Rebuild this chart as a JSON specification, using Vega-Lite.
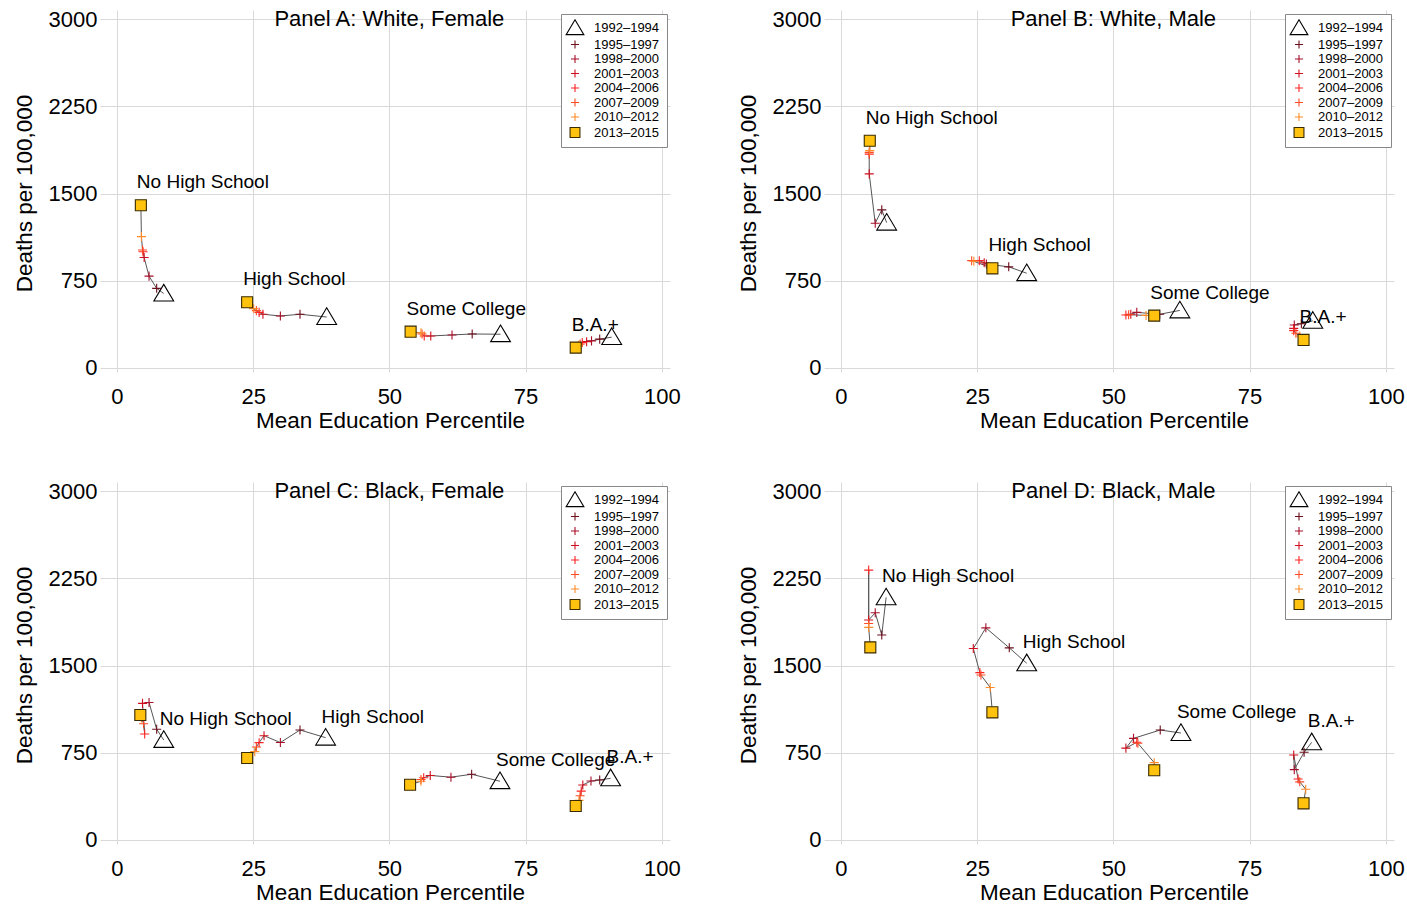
{
  "$schema": "https://vega.github.io/schema/vega-lite/v6.json",
  "background": "white",
  "padding": {"left": 13, "top": 8, "right": 4, "bottom": 2},
  "config": {
    "view": {"stroke": null},
    "font": "Liberation Sans",
    "axis": {
      "grid": true, "gridColor": "#d9d9d9", "gridWidth": 1,
      "domain": false, "ticks": false,
      "labelFont": "Liberation Sans", "labelFontSize": 22, "labelColor": "#000",
      "titleFont": "Liberation Sans", "titleFontSize": 22.5, "titleFontWeight": "normal", "titleColor": "#000"
    },
    "axisX": {"labelPadding": 14, "titlePadding": 2, "titleX": 290},
    "axisY": {"labelPadding": 3, "titlePadding": 12, "titleY": 183},
    "legend": {
      "orient": "none", "legendX": 461, "legendY": 4, "padding": 7,
      "strokeColor": "#888", "fillColor": "white",
      "labelFont": "Liberation Sans", "labelFontSize": 13, "labelColor": "#000",
      "symbolSize": 160, "symbolStrokeWidth": 1.1, "rowPadding": 0.5, "labelOffset": 12
    }
  },
  "spacing": {"row": 48, "column": 56},
  "columns": 2,
  "resolve": {"scale": {"shape": "independent", "stroke": "independent", "fill": "independent"}},
  "datasets": {
    "pts": [
      {"p":"A","g":"No High School","t":"1992–1994","x":8.6,"y":640},
      {"p":"A","g":"No High School","t":"1995–1997","x":7.3,"y":685},
      {"p":"A","g":"No High School","t":"1998–2000","x":5.9,"y":790},
      {"p":"A","g":"No High School","t":"2001–2003","x":5.0,"y":950},
      {"p":"A","g":"No High School","t":"2004–2006","x":4.8,"y":1000},
      {"p":"A","g":"No High School","t":"2007–2009","x":4.7,"y":1015},
      {"p":"A","g":"No High School","t":"2010–2012","x":4.5,"y":1130},
      {"p":"A","g":"No High School","t":"2013–2015","x":4.4,"y":1400},
      {"p":"A","g":"High School","t":"1992–1994","x":38.5,"y":438},
      {"p":"A","g":"High School","t":"1995–1997","x":33.6,"y":462},
      {"p":"A","g":"High School","t":"1998–2000","x":30.0,"y":447},
      {"p":"A","g":"High School","t":"2001–2003","x":26.8,"y":462},
      {"p":"A","g":"High School","t":"2004–2006","x":26.1,"y":478},
      {"p":"A","g":"High School","t":"2007–2009","x":25.6,"y":493},
      {"p":"A","g":"High School","t":"2010–2012","x":25.1,"y":510},
      {"p":"A","g":"High School","t":"2013–2015","x":23.9,"y":565},
      {"p":"A","g":"Some College","t":"1992–1994","x":70.4,"y":290},
      {"p":"A","g":"Some College","t":"1995–1997","x":65.2,"y":292},
      {"p":"A","g":"Some College","t":"1998–2000","x":61.5,"y":284},
      {"p":"A","g":"Some College","t":"2001–2003","x":57.6,"y":275},
      {"p":"A","g":"Some College","t":"2004–2006","x":56.4,"y":275},
      {"p":"A","g":"Some College","t":"2007–2009","x":56.0,"y":292},
      {"p":"A","g":"Some College","t":"2010–2012","x":55.8,"y":302},
      {"p":"A","g":"Some College","t":"2013–2015","x":53.9,"y":312},
      {"p":"A","g":"B.A.+","t":"1992–1994","x":90.8,"y":265},
      {"p":"A","g":"B.A.+","t":"1995–1997","x":88.6,"y":248},
      {"p":"A","g":"B.A.+","t":"1998–2000","x":87.1,"y":233},
      {"p":"A","g":"B.A.+","t":"2001–2003","x":86.2,"y":226},
      {"p":"A","g":"B.A.+","t":"2004–2006","x":85.4,"y":218},
      {"p":"A","g":"B.A.+","t":"2007–2009","x":85.0,"y":205},
      {"p":"A","g":"B.A.+","t":"2010–2012","x":84.7,"y":195},
      {"p":"A","g":"B.A.+","t":"2013–2015","x":84.2,"y":175},

      {"p":"B","g":"No High School","t":"1992–1994","x":8.4,"y":1250},
      {"p":"B","g":"No High School","t":"1995–1997","x":7.5,"y":1360},
      {"p":"B","g":"No High School","t":"1998–2000","x":6.3,"y":1245},
      {"p":"B","g":"No High School","t":"2001–2003","x":5.2,"y":1670},
      {"p":"B","g":"No High School","t":"2004–2006","x":5.2,"y":1840},
      {"p":"B","g":"No High School","t":"2007–2009","x":5.2,"y":1855},
      {"p":"B","g":"No High School","t":"2010–2012","x":5.3,"y":1870},
      {"p":"B","g":"No High School","t":"2013–2015","x":5.3,"y":1955},
      {"p":"B","g":"High School","t":"1992–1994","x":34.1,"y":815},
      {"p":"B","g":"High School","t":"1995–1997","x":30.8,"y":870},
      {"p":"B","g":"High School","t":"1998–2000","x":26.7,"y":894},
      {"p":"B","g":"High School","t":"2001–2003","x":26.3,"y":905},
      {"p":"B","g":"High School","t":"2004–2006","x":25.4,"y":923},
      {"p":"B","g":"High School","t":"2007–2009","x":24.0,"y":923},
      {"p":"B","g":"High School","t":"2010–2012","x":24.4,"y":918},
      {"p":"B","g":"High School","t":"2013–2015","x":27.8,"y":857},
      {"p":"B","g":"Some College","t":"1992–1994","x":62.2,"y":495},
      {"p":"B","g":"Some College","t":"1995–1997","x":58.5,"y":462},
      {"p":"B","g":"Some College","t":"1998–2000","x":54.3,"y":478},
      {"p":"B","g":"Some College","t":"2001–2003","x":53.2,"y":462},
      {"p":"B","g":"Some College","t":"2004–2006","x":52.3,"y":456},
      {"p":"B","g":"Some College","t":"2007–2009","x":52.8,"y":458},
      {"p":"B","g":"Some College","t":"2010–2012","x":56.0,"y":452},
      {"p":"B","g":"Some College","t":"2013–2015","x":57.5,"y":450},
      {"p":"B","g":"B.A.+","t":"1992–1994","x":86.6,"y":405},
      {"p":"B","g":"B.A.+","t":"1995–1997","x":84.5,"y":380},
      {"p":"B","g":"B.A.+","t":"1998–2000","x":83.2,"y":370},
      {"p":"B","g":"B.A.+","t":"2001–2003","x":83.1,"y":340},
      {"p":"B","g":"B.A.+","t":"2004–2006","x":83.1,"y":321},
      {"p":"B","g":"B.A.+","t":"2007–2009","x":83.5,"y":298},
      {"p":"B","g":"B.A.+","t":"2010–2012","x":84.2,"y":275},
      {"p":"B","g":"B.A.+","t":"2013–2015","x":84.9,"y":241},

      {"p":"C","g":"No High School","t":"1992–1994","x":8.6,"y":860},
      {"p":"C","g":"No High School","t":"1995–1997","x":7.3,"y":952},
      {"p":"C","g":"No High School","t":"1998–2000","x":5.9,"y":1183},
      {"p":"C","g":"No High School","t":"2001–2003","x":4.7,"y":1175},
      {"p":"C","g":"No High School","t":"2004–2006","x":5.1,"y":911},
      {"p":"C","g":"No High School","t":"2007–2009","x":4.9,"y":1000},
      {"p":"C","g":"No High School","t":"2010–2012","x":4.5,"y":1050},
      {"p":"C","g":"No High School","t":"2013–2015","x":4.3,"y":1075},
      {"p":"C","g":"High School","t":"1992–1994","x":38.3,"y":880},
      {"p":"C","g":"High School","t":"1995–1997","x":33.6,"y":946},
      {"p":"C","g":"High School","t":"1998–2000","x":30.0,"y":838},
      {"p":"C","g":"High School","t":"2001–2003","x":27.0,"y":897},
      {"p":"C","g":"High School","t":"2004–2006","x":26.1,"y":837},
      {"p":"C","g":"High School","t":"2007–2009","x":25.6,"y":800},
      {"p":"C","g":"High School","t":"2010–2012","x":25.3,"y":760},
      {"p":"C","g":"High School","t":"2013–2015","x":23.9,"y":705},
      {"p":"C","g":"Some College","t":"1992–1994","x":70.3,"y":505},
      {"p":"C","g":"Some College","t":"1995–1997","x":65.1,"y":565},
      {"p":"C","g":"Some College","t":"1998–2000","x":61.3,"y":540},
      {"p":"C","g":"Some College","t":"2001–2003","x":57.5,"y":555},
      {"p":"C","g":"Some College","t":"2004–2006","x":56.3,"y":535},
      {"p":"C","g":"Some College","t":"2007–2009","x":55.8,"y":520},
      {"p":"C","g":"Some College","t":"2010–2012","x":55.8,"y":505},
      {"p":"C","g":"Some College","t":"2013–2015","x":53.8,"y":475},
      {"p":"C","g":"B.A.+","t":"1992–1994","x":90.6,"y":530},
      {"p":"C","g":"B.A.+","t":"1995–1997","x":88.6,"y":516},
      {"p":"C","g":"B.A.+","t":"1998–2000","x":87.0,"y":507},
      {"p":"C","g":"B.A.+","t":"2001–2003","x":85.5,"y":473},
      {"p":"C","g":"B.A.+","t":"2004–2006","x":85.2,"y":420},
      {"p":"C","g":"B.A.+","t":"2007–2009","x":85.0,"y":380},
      {"p":"C","g":"B.A.+","t":"2010–2012","x":84.8,"y":340},
      {"p":"C","g":"B.A.+","t":"2013–2015","x":84.2,"y":292},

      {"p":"D","g":"No High School","t":"1992–1994","x":8.3,"y":2087},
      {"p":"D","g":"No High School","t":"1995–1997","x":7.5,"y":1763},
      {"p":"D","g":"No High School","t":"1998–2000","x":6.3,"y":1955},
      {"p":"D","g":"No High School","t":"2001–2003","x":5.1,"y":1892},
      {"p":"D","g":"No High School","t":"2004–2006","x":5.1,"y":2322},
      {"p":"D","g":"No High School","t":"2007–2009","x":5.1,"y":1863},
      {"p":"D","g":"No High School","t":"2010–2012","x":5.1,"y":1829},
      {"p":"D","g":"No High School","t":"2013–2015","x":5.4,"y":1657},
      {"p":"D","g":"High School","t":"1992–1994","x":34.1,"y":1520},
      {"p":"D","g":"High School","t":"1995–1997","x":30.9,"y":1653},
      {"p":"D","g":"High School","t":"1998–2000","x":26.6,"y":1825},
      {"p":"D","g":"High School","t":"2001–2003","x":24.3,"y":1647},
      {"p":"D","g":"High School","t":"2004–2006","x":25.5,"y":1440},
      {"p":"D","g":"High School","t":"2007–2009","x":25.7,"y":1419},
      {"p":"D","g":"High School","t":"2010–2012","x":27.4,"y":1312},
      {"p":"D","g":"High School","t":"2013–2015","x":27.8,"y":1098},
      {"p":"D","g":"Some College","t":"1992–1994","x":62.4,"y":920},
      {"p":"D","g":"Some College","t":"1995–1997","x":58.6,"y":946},
      {"p":"D","g":"Some College","t":"1998–2000","x":53.7,"y":874},
      {"p":"D","g":"Some College","t":"2001–2003","x":52.3,"y":790},
      {"p":"D","g":"Some College","t":"2004–2006","x":54.3,"y":840},
      {"p":"D","g":"Some College","t":"2007–2009","x":54.5,"y":832},
      {"p":"D","g":"Some College","t":"2010–2012","x":57.5,"y":665},
      {"p":"D","g":"Some College","t":"2013–2015","x":57.5,"y":600},
      {"p":"D","g":"B.A.+","t":"1992–1994","x":86.4,"y":840},
      {"p":"D","g":"B.A.+","t":"1995–1997","x":85.0,"y":754},
      {"p":"D","g":"B.A.+","t":"1998–2000","x":83.2,"y":605},
      {"p":"D","g":"B.A.+","t":"2001–2003","x":83.1,"y":731},
      {"p":"D","g":"B.A.+","t":"2004–2006","x":83.9,"y":524},
      {"p":"D","g":"B.A.+","t":"2007–2009","x":84.2,"y":500},
      {"p":"D","g":"B.A.+","t":"2010–2012","x":85.3,"y":436},
      {"p":"D","g":"B.A.+","t":"2013–2015","x":84.9,"y":315}
    ],
    "labs": [
      {"p":"A","g":"No High School","x":4.4,"y":1400},
      {"p":"A","g":"High School","x":23.9,"y":565},
      {"p":"A","g":"Some College","x":53.9,"y":312},
      {"p":"A","g":"B.A.+","x":84.2,"y":175},
      {"p":"B","g":"No High School","x":5.3,"y":1955},
      {"p":"B","g":"High School","x":27.8,"y":857},
      {"p":"B","g":"Some College","x":57.5,"y":450},
      {"p":"B","g":"B.A.+","x":84.9,"y":241},
      {"p":"C","g":"No High School","x":8.6,"y":860},
      {"p":"C","g":"High School","x":38.3,"y":880},
      {"p":"C","g":"Some College","x":70.3,"y":505},
      {"p":"C","g":"B.A.+","x":90.6,"y":530},
      {"p":"D","g":"No High School","x":8.3,"y":2087},
      {"p":"D","g":"High School","x":34.1,"y":1520},
      {"p":"D","g":"Some College","x":62.4,"y":920},
      {"p":"D","g":"B.A.+","x":86.4,"y":840}
    ],
    "ttl": [
      {"p":"A","g":"Panel A: White, Female","x":50,"y":3000},
      {"p":"B","g":"Panel B: White, Male","x":50,"y":3000},
      {"p":"C","g":"Panel C: Black, Female","x":50,"y":3000},
      {"p":"D","g":"Panel D: Black, Male","x":50,"y":3000}
    ]
  },
  "concat": [
    {"width": 570, "height": 362, "layer": [
      {"data": {"name": "pts"}, "transform": [{"filter": "datum.p=='A'"}],
       "mark": {"type": "line", "color": "#555", "strokeWidth": 1},
       "encoding": {
         "x": {"field": "x", "type": "quantitative", "scale": {"domain": [-3.1, 101.5], "nice": false, "zero": false}, "axis": {"values": [0,25,50,75,100], "title": "Mean Education Percentile"}},
         "y": {"field": "y", "type": "quantitative", "scale": {"domain": [-35, 3080], "nice": false, "zero": false}, "axis": {"values": [0,750,1500,2250,3000], "format": "d", "title": "Deaths per 100,000"}},
         "detail": {"field": "g"}, "order": {"field": "t"}}},
      {"data": {"name": "pts"}, "transform": [{"filter": "datum.p=='A'"}],
       "mark": {"type": "point", "size": 200, "strokeWidth": 1.1, "opacity": 1},
       "encoding": {
         "x": {"field": "x", "type": "quantitative"},
         "y": {"field": "y", "type": "quantitative"},
         "shape": {"field": "t", "type": "nominal", "title": null, "scale": {"domain": ["1992–1994","1995–1997","1998–2000","2001–2003","2004–2006","2007–2009","2010–2012","2013–2015"], "range": ["M0,-1.3L1.4,1.05L-1.4,1.05Z","M-0.64,0H0.64M0,-0.64V0.64","M-0.64,0H0.64M0,-0.64V0.64","M-0.64,0H0.64M0,-0.64V0.64","M-0.64,0H0.64M0,-0.64V0.64","M-0.64,0H0.64M0,-0.64V0.64","M-0.64,0H0.64M0,-0.64V0.64","M-0.78,-0.78H0.78V0.78H-0.78Z"]}},
         "stroke": {"field": "t", "type": "nominal", "title": null, "scale": {"domain": ["1992–1994","1995–1997","1998–2000","2001–2003","2004–2006","2007–2009","2010–2012","2013–2015"], "range": ["#000000","#6e0f1c","#a8102a","#d0101e","#ff2424","#ff4a22","#ff8c28","#3a2a00"]}},
         "fill": {"field": "t", "type": "nominal", "title": null, "scale": {"domain": ["1992–1994","1995–1997","1998–2000","2001–2003","2004–2006","2007–2009","2010–2012","2013–2015"], "range": ["transparent","transparent","transparent","transparent","transparent","transparent","transparent","#ffc20e"]}}}},
      {"data": {"name": "labs"}, "transform": [{"filter": "datum.p=='A'"}],
       "mark": {"type": "text", "align": "left", "baseline": "middle", "dx": -4, "dy": -23, "fontSize": 19, "font": "Liberation Sans", "color": "#000"},
       "encoding": {"x": {"field": "x", "type": "quantitative"}, "y": {"field": "y", "type": "quantitative"}, "text": {"field": "g"}}},
      {"data": {"name": "ttl"}, "transform": [{"filter": "datum.p=='A'"}],
       "mark": {"type": "text", "align": "center", "baseline": "middle", "fontSize": 22, "font": "Liberation Sans", "color": "#000"},
       "encoding": {"x": {"field": "x", "type": "quantitative"}, "y": {"field": "y", "type": "quantitative"}, "text": {"field": "g"}}}
    ]},
    {"width": 570, "height": 362, "layer": [
      {"data": {"name": "pts"}, "transform": [{"filter": "datum.p=='B'"}],
       "mark": {"type": "line", "color": "#555", "strokeWidth": 1},
       "encoding": {
         "x": {"field": "x", "type": "quantitative", "scale": {"domain": [-3.1, 101.5], "nice": false, "zero": false}, "axis": {"values": [0,25,50,75,100], "title": "Mean Education Percentile"}},
         "y": {"field": "y", "type": "quantitative", "scale": {"domain": [-35, 3080], "nice": false, "zero": false}, "axis": {"values": [0,750,1500,2250,3000], "format": "d", "title": "Deaths per 100,000"}},
         "detail": {"field": "g"}, "order": {"field": "t"}}},
      {"data": {"name": "pts"}, "transform": [{"filter": "datum.p=='B'"}],
       "mark": {"type": "point", "size": 200, "strokeWidth": 1.1, "opacity": 1},
       "encoding": {
         "x": {"field": "x", "type": "quantitative"},
         "y": {"field": "y", "type": "quantitative"},
         "shape": {"field": "t", "type": "nominal", "title": null, "scale": {"domain": ["1992–1994","1995–1997","1998–2000","2001–2003","2004–2006","2007–2009","2010–2012","2013–2015"], "range": ["M0,-1.3L1.4,1.05L-1.4,1.05Z","M-0.64,0H0.64M0,-0.64V0.64","M-0.64,0H0.64M0,-0.64V0.64","M-0.64,0H0.64M0,-0.64V0.64","M-0.64,0H0.64M0,-0.64V0.64","M-0.64,0H0.64M0,-0.64V0.64","M-0.64,0H0.64M0,-0.64V0.64","M-0.78,-0.78H0.78V0.78H-0.78Z"]}},
         "stroke": {"field": "t", "type": "nominal", "title": null, "scale": {"domain": ["1992–1994","1995–1997","1998–2000","2001–2003","2004–2006","2007–2009","2010–2012","2013–2015"], "range": ["#000000","#6e0f1c","#a8102a","#d0101e","#ff2424","#ff4a22","#ff8c28","#3a2a00"]}},
         "fill": {"field": "t", "type": "nominal", "title": null, "scale": {"domain": ["1992–1994","1995–1997","1998–2000","2001–2003","2004–2006","2007–2009","2010–2012","2013–2015"], "range": ["transparent","transparent","transparent","transparent","transparent","transparent","transparent","#ffc20e"]}}}},
      {"data": {"name": "labs"}, "transform": [{"filter": "datum.p=='B'"}],
       "mark": {"type": "text", "align": "left", "baseline": "middle", "dx": -4, "dy": -23, "fontSize": 19, "font": "Liberation Sans", "color": "#000"},
       "encoding": {"x": {"field": "x", "type": "quantitative"}, "y": {"field": "y", "type": "quantitative"}, "text": {"field": "g"}}},
      {"data": {"name": "ttl"}, "transform": [{"filter": "datum.p=='B'"}],
       "mark": {"type": "text", "align": "center", "baseline": "middle", "fontSize": 22, "font": "Liberation Sans", "color": "#000"},
       "encoding": {"x": {"field": "x", "type": "quantitative"}, "y": {"field": "y", "type": "quantitative"}, "text": {"field": "g"}}}
    ]},
    {"width": 570, "height": 362, "layer": [
      {"data": {"name": "pts"}, "transform": [{"filter": "datum.p=='C'"}],
       "mark": {"type": "line", "color": "#555", "strokeWidth": 1},
       "encoding": {
         "x": {"field": "x", "type": "quantitative", "scale": {"domain": [-3.1, 101.5], "nice": false, "zero": false}, "axis": {"values": [0,25,50,75,100], "title": "Mean Education Percentile"}},
         "y": {"field": "y", "type": "quantitative", "scale": {"domain": [-35, 3080], "nice": false, "zero": false}, "axis": {"values": [0,750,1500,2250,3000], "format": "d", "title": "Deaths per 100,000"}},
         "detail": {"field": "g"}, "order": {"field": "t"}}},
      {"data": {"name": "pts"}, "transform": [{"filter": "datum.p=='C'"}],
       "mark": {"type": "point", "size": 200, "strokeWidth": 1.1, "opacity": 1},
       "encoding": {
         "x": {"field": "x", "type": "quantitative"},
         "y": {"field": "y", "type": "quantitative"},
         "shape": {"field": "t", "type": "nominal", "title": null, "scale": {"domain": ["1992–1994","1995–1997","1998–2000","2001–2003","2004–2006","2007–2009","2010–2012","2013–2015"], "range": ["M0,-1.3L1.4,1.05L-1.4,1.05Z","M-0.64,0H0.64M0,-0.64V0.64","M-0.64,0H0.64M0,-0.64V0.64","M-0.64,0H0.64M0,-0.64V0.64","M-0.64,0H0.64M0,-0.64V0.64","M-0.64,0H0.64M0,-0.64V0.64","M-0.64,0H0.64M0,-0.64V0.64","M-0.78,-0.78H0.78V0.78H-0.78Z"]}},
         "stroke": {"field": "t", "type": "nominal", "title": null, "scale": {"domain": ["1992–1994","1995–1997","1998–2000","2001–2003","2004–2006","2007–2009","2010–2012","2013–2015"], "range": ["#000000","#6e0f1c","#a8102a","#d0101e","#ff2424","#ff4a22","#ff8c28","#3a2a00"]}},
         "fill": {"field": "t", "type": "nominal", "title": null, "scale": {"domain": ["1992–1994","1995–1997","1998–2000","2001–2003","2004–2006","2007–2009","2010–2012","2013–2015"], "range": ["transparent","transparent","transparent","transparent","transparent","transparent","transparent","#ffc20e"]}}}},
      {"data": {"name": "labs"}, "transform": [{"filter": "datum.p=='C'"}],
       "mark": {"type": "text", "align": "left", "baseline": "middle", "dx": -4, "dy": -21, "fontSize": 19, "font": "Liberation Sans", "color": "#000"},
       "encoding": {"x": {"field": "x", "type": "quantitative"}, "y": {"field": "y", "type": "quantitative"}, "text": {"field": "g"}}},
      {"data": {"name": "ttl"}, "transform": [{"filter": "datum.p=='C'"}],
       "mark": {"type": "text", "align": "center", "baseline": "middle", "fontSize": 22, "font": "Liberation Sans", "color": "#000"},
       "encoding": {"x": {"field": "x", "type": "quantitative"}, "y": {"field": "y", "type": "quantitative"}, "text": {"field": "g"}}}
    ]},
    {"width": 570, "height": 362, "layer": [
      {"data": {"name": "pts"}, "transform": [{"filter": "datum.p=='D'"}],
       "mark": {"type": "line", "color": "#555", "strokeWidth": 1},
       "encoding": {
         "x": {"field": "x", "type": "quantitative", "scale": {"domain": [-3.1, 101.5], "nice": false, "zero": false}, "axis": {"values": [0,25,50,75,100], "title": "Mean Education Percentile"}},
         "y": {"field": "y", "type": "quantitative", "scale": {"domain": [-35, 3080], "nice": false, "zero": false}, "axis": {"values": [0,750,1500,2250,3000], "format": "d", "title": "Deaths per 100,000"}},
         "detail": {"field": "g"}, "order": {"field": "t"}}},
      {"data": {"name": "pts"}, "transform": [{"filter": "datum.p=='D'"}],
       "mark": {"type": "point", "size": 200, "strokeWidth": 1.1, "opacity": 1},
       "encoding": {
         "x": {"field": "x", "type": "quantitative"},
         "y": {"field": "y", "type": "quantitative"},
         "shape": {"field": "t", "type": "nominal", "title": null, "scale": {"domain": ["1992–1994","1995–1997","1998–2000","2001–2003","2004–2006","2007–2009","2010–2012","2013–2015"], "range": ["M0,-1.3L1.4,1.05L-1.4,1.05Z","M-0.64,0H0.64M0,-0.64V0.64","M-0.64,0H0.64M0,-0.64V0.64","M-0.64,0H0.64M0,-0.64V0.64","M-0.64,0H0.64M0,-0.64V0.64","M-0.64,0H0.64M0,-0.64V0.64","M-0.64,0H0.64M0,-0.64V0.64","M-0.78,-0.78H0.78V0.78H-0.78Z"]}},
         "stroke": {"field": "t", "type": "nominal", "title": null, "scale": {"domain": ["1992–1994","1995–1997","1998–2000","2001–2003","2004–2006","2007–2009","2010–2012","2013–2015"], "range": ["#000000","#6e0f1c","#a8102a","#d0101e","#ff2424","#ff4a22","#ff8c28","#3a2a00"]}},
         "fill": {"field": "t", "type": "nominal", "title": null, "scale": {"domain": ["1992–1994","1995–1997","1998–2000","2001–2003","2004–2006","2007–2009","2010–2012","2013–2015"], "range": ["transparent","transparent","transparent","transparent","transparent","transparent","transparent","#ffc20e"]}}}},
      {"data": {"name": "labs"}, "transform": [{"filter": "datum.p=='D'"}],
       "mark": {"type": "text", "align": "left", "baseline": "middle", "dx": -4, "dy": -21, "fontSize": 19, "font": "Liberation Sans", "color": "#000"},
       "encoding": {"x": {"field": "x", "type": "quantitative"}, "y": {"field": "y", "type": "quantitative"}, "text": {"field": "g"}}},
      {"data": {"name": "ttl"}, "transform": [{"filter": "datum.p=='D'"}],
       "mark": {"type": "text", "align": "center", "baseline": "middle", "fontSize": 22, "font": "Liberation Sans", "color": "#000"},
       "encoding": {"x": {"field": "x", "type": "quantitative"}, "y": {"field": "y", "type": "quantitative"}, "text": {"field": "g"}}}
    ]}
  ]
}
